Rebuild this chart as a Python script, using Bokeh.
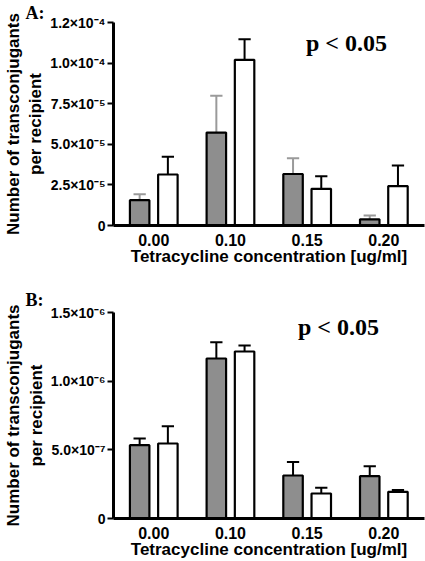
from bokeh.plotting import figure
from bokeh.layouts import column
from bokeh.models import FixedTicker, Range1d, Label
from bokeh.embed import file_html
from bokeh.resources import INLINE

# ---- data ----
categories = ["0.00", "0.10", "0.15", "0.20"]

a_gray = [1.56e-5, 5.72e-5, 3.17e-5, 3.8e-6]
a_gray_err = [1.92e-5, 7.99e-5, 4.14e-5, 6.1e-6]
a_white = [3.14e-5, 1.02e-4, 2.26e-5, 2.43e-5]
a_white_err = [4.23e-5, 1.147e-4, 3.03e-5, 3.7e-5]
a_ticks = [0, 2.5e-5, 5e-5, 7.5e-5, 1e-4, 1.25e-4]
a_tick_labels = ["0", "2.5×10⁻⁵", "5.0×10⁻⁵", "7.5×10⁻⁵", "1.0×10⁻⁴", "1.2×10⁻⁴"]

b_gray = [5.34e-7, 1.165e-6, 3.13e-7, 3.08e-7]
b_gray_err = [5.82e-7, 1.283e-6, 4.12e-7, 3.81e-7]
b_white = [5.46e-7, 1.216e-6, 1.82e-7, 1.94e-7]
b_white_err = [6.72e-7, 1.26e-6, 2.23e-7, 2.08e-7]
b_ticks = [0, 5e-7, 1e-6, 1.5e-6]
b_tick_labels = ["0", "5.0×10⁻⁷", "1.0×10⁻⁶", "1.5×10⁻⁶"]

x_title = "Tetracycline concentration [ug/ml]"
y_title = "Number of transconjugants\nper recipient"
sig_text = "p < 0.05"

GRAY = "#8e8e8e"
ERR_GRAY = "#9a9a9a"
SANS = "Liberation Sans"
SERIF = "Liberation Serif"
BW = 0.254
OFF = 0.184
CAP = 0.08


def panel(gray, gray_err, white, white_err, ticks, tick_labels, ymax,
          height, top_b, bottom_b, letter, title_standoff, gray_err_color):
    p = figure(width=425, height=height, output_backend="svg",
               toolbar_location=None,
               x_range=Range1d(-0.525, 3.530), y_range=Range1d(0, ymax),
               min_border_left=113, min_border_right=1,
               min_border_top=top_b, min_border_bottom=bottom_b)
    p.outline_line_color = None
    p.grid.visible = False
    p.background_fill_color = "white"
    p.border_fill_color = "white"

    p.title.text = letter
    p.title.align = "left"
    p.title.offset = -88
    p.title.standoff = title_standoff
    p.title.text_font = SERIF
    p.title.text_font_style = "bold"
    p.title.text_font_size = "18px"
    p.title.text_color = "black"

    idx = list(range(len(categories)))
    xg = [i - OFF for i in idx]
    xw = [i + OFF for i in idx]

    # error bars (upper only)
    for xs, tops, errs, col in ((xg, gray, gray_err, gray_err_color),
                                (xw, white, white_err, "black")):
        p.segment(x0=xs, y0=tops, x1=xs, y1=errs, line_color=col, line_width=2)
        p.segment(x0=[x - CAP for x in xs], y0=errs,
                  x1=[x + CAP for x in xs], y1=errs,
                  line_color=col, line_width=2)

    p.vbar(x=xg, top=gray, width=BW, bottom=0, fill_color=GRAY,
           line_color="black", line_width=2.2)
    p.vbar(x=xw, top=white, width=BW, bottom=0, fill_color="white",
           line_color="black", line_width=2.2)

    # x axis
    xa = p.xaxis[0]
    xa.ticker = FixedTicker(ticks=idx)
    xa.major_label_overrides = {i: c for i, c in zip(idx, categories)}
    xa.major_tick_line_color = None
    xa.major_tick_out = 0
    xa.major_tick_in = 0
    xa.minor_tick_line_color = None
    xa.axis_line_width = 3
    xa.major_label_text_font = SANS
    xa.major_label_text_font_style = "bold"
    xa.major_label_text_font_size = "16px"
    xa.major_label_text_color = "black"
    xa.major_label_standoff = 8
    xa.axis_label = x_title
    xa.axis_label_text_font = SANS
    xa.axis_label_text_font_style = "bold"
    xa.axis_label_text_font_size = "17px"
    xa.axis_label_text_color = "black"
    xa.axis_label_standoff = -2

    # y axis
    ya = p.yaxis[0]
    ya.ticker = FixedTicker(ticks=ticks)
    ya.major_label_overrides = {t: l for t, l in zip(ticks, tick_labels)}
    ya.minor_tick_line_color = None
    ya.axis_line_width = 3
    ya.major_tick_line_width = 2
    ya.major_tick_out = 6
    ya.major_tick_in = 0
    ya.major_label_standoff = 2
    ya.major_label_text_font = SANS
    ya.major_label_text_font_style = "bold"
    ya.major_label_text_font_size = "14px"
    ya.major_label_text_color = "black"
    ya.axis_label = y_title
    ya.axis_label_text_font = SANS
    ya.axis_label_text_font_style = "bold"
    ya.axis_label_text_font_size = "17px"
    ya.axis_label_text_color = "black"
    ya.axis_label_standoff = 2
    return p


p1 = panel(a_gray, a_gray_err, a_white, a_white_err, a_ticks, a_tick_labels,
           1.25e-4, 280, 21, 55, "A:", 0, ERR_GRAY)
p1.add_layout(Label(x=233, y=183, x_units="screen", y_units="screen",
                    text=sig_text, text_font=SERIF, text_font_style="bold",
                    text_font_size="24px", text_align="center",
                    text_baseline="alphabetic", text_color="black"))

p2 = panel(b_gray, b_gray_err, b_white, b_white_err, b_ticks, b_tick_labels,
           1.5e-6, 281, 32, 43, "B:", 5, "black")
p2.add_layout(Label(x=225, y=192, x_units="screen", y_units="screen",
                    text=sig_text, text_font=SERIF, text_font_style="bold",
                    text_font_size="24px", text_align="center",
                    text_baseline="alphabetic", text_color="black"))

layout = column(p1, p2)
open("out.html", "w").write(file_html(layout, INLINE))
